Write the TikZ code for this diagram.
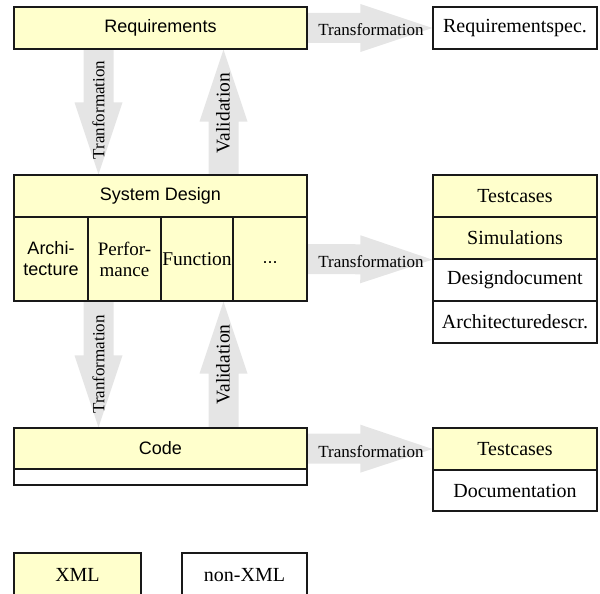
\documentclass[tikz,border=0pt]{standalone}
\usepackage{fontspec}
\setmainfont{Liberation Serif}
\newfontfamily\arialfont{Liberation Sans}
\usetikzlibrary{calc}

\definecolor{xmlyellow}{RGB}{255,255,204}
\definecolor{arrowgray}{RGB}{229,229,229}
\definecolor{edge}{RGB}{25,25,25}

\pgfdeclarelayer{arrowlayer}
\pgfsetlayers{arrowlayer,main}

\tikzset{
  cell/.style={draw=edge, line width=1.3pt, inner sep=0pt, align=center,
    font=\fontsize{20}{22}\selectfont},
  xmlcell/.style={cell, fill=xmlyellow},
  plaincell/.style={cell, fill=white},
  sanscell/.style={font=\arialfont\fontsize{18}{21}\selectfont},
  arrowfill/.style={fill=arrowgray},
  translabel/.style={font=\fontsize{17}{18}\selectfont, inner sep=0pt},
  steplabel/.style={font=\fontsize{17}{18}\selectfont, inner sep=0pt, rotate=90},
  vallabel/.style={font=\fontsize{19.5}{20}\selectfont, inner sep=0pt, rotate=90},
}

% broad block arrow from #1 to #2 (shaft half width 15pt, head half width 24pt, head length 72pt)
\newcommand\blockarrow[2]{%
  \coordinate (ba) at (#1);
  \coordinate (bb) at (#2);
  \coordinate (bh) at ($(bb)!72pt!(ba)$);
  \fill[arrowfill] ($(ba)!15pt!90:(bb)$) -- ($(bh)!15pt!90:(bb)$)
    -- ($(bh)!24pt!90:(bb)$) -- (bb) -- ($(bh)!24pt!-90:(bb)$)
    -- ($(bh)!15pt!-90:(bb)$) -- ($(ba)!15pt!-90:(bb)$) -- cycle;
}

\begin{document}
\begin{tikzpicture}[x=1pt,y=1pt]
\useasboundingbox (0,0) rectangle (600,-594);
\clip (0,0) rectangle (600,-594);

% requirements level
\node[xmlcell, sanscell, minimum width=293pt, minimum height=42pt] (req) at (160.5,-28) {Requirements};
\node[plaincell, minimum width=164pt, minimum height=42pt] (reqspec) at (515,-28) {Requirementspec.};

% system design level
\node[xmlcell, sanscell, minimum width=293pt, minimum height=42pt] (sd) at (160.5,-196) {System Design};
\node[xmlcell, sanscell, minimum width=74pt, minimum height=84pt] (sdarch) at (51,-259) {Archi-\\tecture};
\node[xmlcell, font=\fontsize{19}{21}\selectfont, minimum width=73pt, minimum height=84pt] (sdperf) at (124.5,-259) {Perfor-\\mance};
\node[xmlcell, font=\fontsize{19.5}{21}\selectfont, minimum width=72pt, minimum height=84pt] (sdfun) at (197,-259) {Function};
\node[xmlcell, sanscell, minimum width=74pt, minimum height=84pt] (sddots) at (270,-259) {\vphantom{Fg}...};

\node[xmlcell, minimum width=164pt, minimum height=42pt] (tc2) at (515,-196) {Testcases};
\node[xmlcell, minimum width=164pt, minimum height=42pt] (simu) at (515,-238) {Simulations};
\node[plaincell, minimum width=164pt, minimum height=42pt] (desdoc) at (515,-280) {Designdocument};
\node[plaincell, minimum width=164pt, minimum height=42pt] (archdesc) at (515,-322) {Architecturedescr.};

% code level
\node[xmlcell, sanscell, minimum width=293pt, minimum height=41pt] (code) at (160.5,-448.5) {Code};
\node[plaincell, minimum width=293pt, minimum height=16pt] (codeext) at (160.5,-477) {};
\node[xmlcell, minimum width=164pt, minimum height=42pt] (tc3) at (515,-449) {Testcases};
\node[plaincell, minimum width=164pt, minimum height=41pt] (docu) at (515,-490.5) {Documentation};

% legend
\node[xmlcell, minimum width=127pt, minimum height=44pt] (legxml) at (77.5,-575) {XML};
\node[plaincell, minimum width=125pt, minimum height=44pt] (legnon) at (244.5,-575) {non-XML};

% arrow axes
\coordinate (xl) at (98.5,0);
\coordinate (xr) at (223.5,0);

\begin{pgfonlayer}{arrowlayer}
  \blockarrow{req.east}{reqspec.west}
  \blockarrow{sddots.east}{simu.south west}
  \blockarrow{code.east}{tc3.west}
  \blockarrow{req.south -| xl}{sd.north -| xl}
  \blockarrow{sd.north -| xr}{req.south -| xr}
  \blockarrow{sdarch.south -| xl}{code.north -| xl}
  \blockarrow{code.north -| xr}{sdarch.south -| xr}
\end{pgfonlayer}

% arrow labels
\node[translabel] (t1) at ($(req.east)!0.5!(reqspec.west)+(1,-2)$) {Transformation};
\node[translabel] (t2) at ($(sddots.east)!0.5!(simu.south west)+(1,-2)$) {Transformation};
\node[translabel] (t3) at ($(code.east)!0.5!(tc3.west)+(1,-3)$) {Transformation};
\node[steplabel] (v1) at ($(req.south -| xl)!0.5!(sd.north -| xl)+(0,2)$) {Tranformation};
\node[vallabel] (v2) at ($(sd.north -| xr)!0.5!(req.south -| xr)+(-0.5,-1)$) {Validation};
\node[steplabel] (v3) at ($(sdarch.south -| xl)!0.5!(code.north -| xl)$) {Tranformation};
\node[vallabel] (v4) at ($(code.north -| xr)!0.5!(sdarch.south -| xr)+(-0.5,0)$) {Validation};
\end{tikzpicture}
\end{document}
